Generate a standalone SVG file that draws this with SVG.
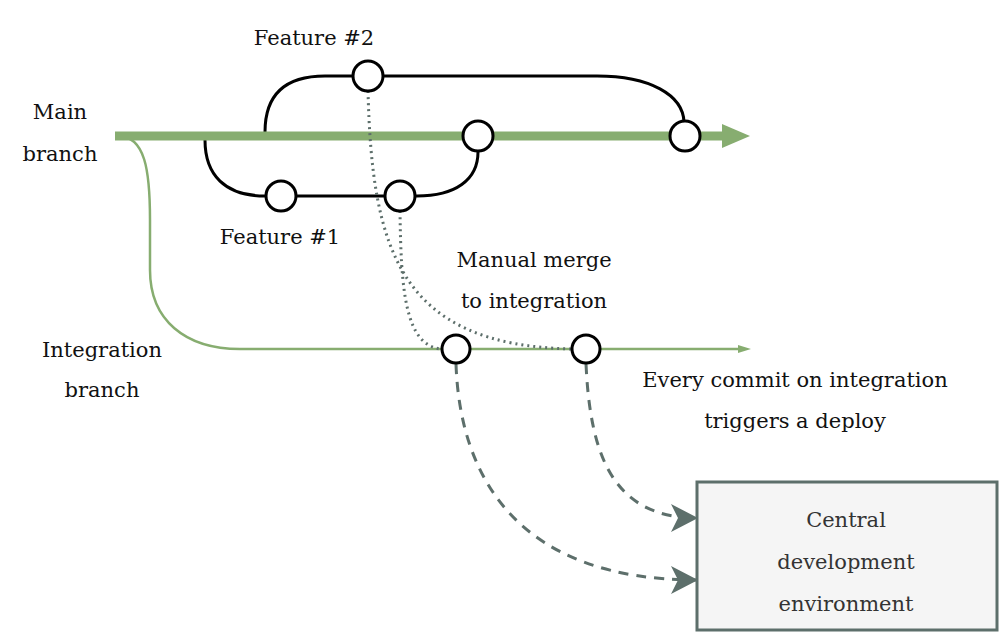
<svg xmlns="http://www.w3.org/2000/svg" width="999" height="633" viewBox="0 0 999 633">
<style>
text{font-family:"DejaVu Serif","Liberation Serif",serif;font-size:21px;fill:#111;text-anchor:middle}
.feat{fill:none;stroke:#000;stroke-width:3}
.commit{fill:#fff;stroke:#000;stroke-width:3}
.dot{fill:none;stroke:#5d6f6b;stroke-width:3;stroke-dasharray:2 4}
.dash{fill:none;stroke:#5d6f6b;stroke-width:3;stroke-dasharray:10 8}
</style>
<defs>
<marker id="ah" markerUnits="userSpaceOnUse" markerWidth="28" markerHeight="30" refX="26" refY="15" orient="auto">
<path d="M0,1 L27,15 L0,29 L7,15 Z" fill="#5d6f6b"/>
</marker>
</defs>
<rect width="999" height="633" fill="#fff"/>
<g id="connectors">
<path class="feat" d="M265,132 C265,95 285,76 325,76 L597,76 C650,76 683,95 684,122"/>
<path class="feat" d="M205,140 C205,175 225,196 265,196 L417,196 C455,196 478,180 478,152"/>
<path d="M118,136 C145,136 150,170 150,220 L150,270 C150,320 185,349 240,349 L740,349" fill="none" stroke="#87ad70" stroke-width="2.5"/>
<path d="M738,345 L751,349 L738,353 Z" fill="#87ad70"/>
<line x1="115" y1="136" x2="725" y2="136" stroke="#87ad70" stroke-width="9"/>
<path d="M722,124 L750,136 L722,148 Z" fill="#87ad70"/>
<path class="dot" d="M368,91 C372,250 400,345 571,349"/>
<path class="dot" d="M400,211 C401,290 405,345 441,349"/>
<path class="dash" d="M456,364 C460,480 520,580 697,580" marker-end="url(#ah)"/>
<path class="dash" d="M586,364 C590,450 610,518 697,518" marker-end="url(#ah)"/>
</g>
<g id="main-commit-1"><circle class="commit" cx="478" cy="136" r="15"/></g>
<g id="main-commit-2"><circle class="commit" cx="685" cy="136" r="15"/></g>
<g id="feature2-commit"><circle class="commit" cx="368" cy="76" r="15"/></g>
<g id="feature1-commit-1"><circle class="commit" cx="281" cy="196" r="15"/></g>
<g id="feature1-commit-2"><circle class="commit" cx="400" cy="196" r="15"/></g>
<g id="integration-commit-1"><circle class="commit" cx="456" cy="349" r="14"/></g>
<g id="integration-commit-2"><circle class="commit" cx="586" cy="349" r="14"/></g>
<g id="central-env">
<rect x="697" y="482" width="300" height="148" fill="#f5f5f5" stroke="#5d6f6b" stroke-width="3"/>
<text x="846" y="527" style="fill:#333">Central</text>
<text x="846" y="569" style="fill:#333">development</text>
<text x="846" y="611" style="fill:#333">environment</text>
</g>
<g id="labels">
<text x="60" y="119">Main</text>
<text x="60" y="161">branch</text>
<text x="314" y="45">Feature #2</text>
<text x="280" y="244">Feature #1</text>
<text x="534" y="267">Manual merge</text>
<text x="534" y="308">to integration</text>
<text x="102" y="357">Integration</text>
<text x="102" y="397">branch</text>
<text x="795" y="387">Every commit on integration</text>
<text x="795" y="428">triggers a deploy</text>
</g>
</svg>
